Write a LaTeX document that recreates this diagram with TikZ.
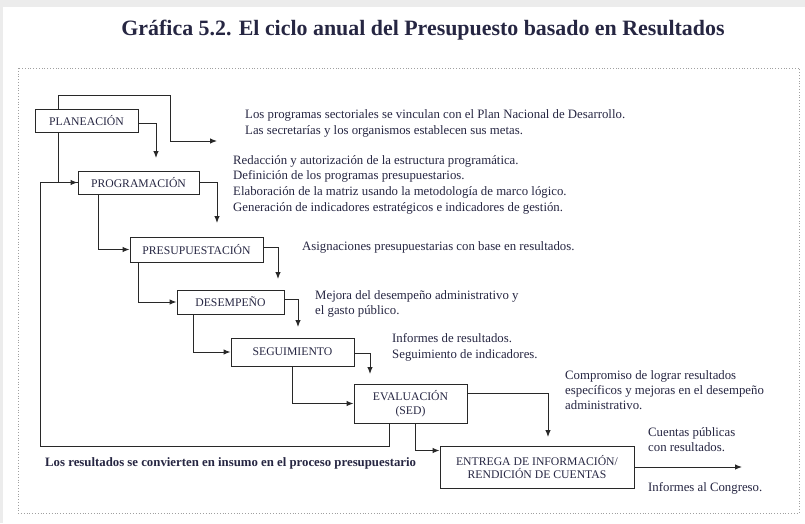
\documentclass[tikz,border=0pt]{standalone}
\usepackage{fontspec}
\setmainfont{Liberation Serif}
\usetikzlibrary{arrows.meta,calc}
\definecolor{txt}{RGB}{38,38,66}
\definecolor{ln}{RGB}{40,40,40}
\definecolor{frm}{RGB}{160,160,160}
\definecolor{strip}{RGB}{236,236,236}
\begin{document}
\begin{tikzpicture}[x=1pt,y=-1pt,
  box/.style={draw=ln,line width=1pt,fill=white,inner sep=0pt,text=txt,
    font=\fontsize{11.7}{13.5}\selectfont,align=center},
  arr/.style={draw=ln,line width=1pt,-{Latex[length=7pt,width=5.5pt]}},
  lnk/.style={draw=ln,line width=1pt},
  body/.style={anchor=west,inner sep=0pt,text=txt,align=left,
    font=\fontsize{12.8}{15.3}\selectfont}]
\useasboundingbox (0,0) rectangle (805,523);
\fill[white] (0,0) rectangle (805,523);
\fill[strip] (0,0) rectangle (805,7);
\fill[strip] (0,0) rectangle (3,523);
\draw[frm,dotted,line width=0.8pt] (18,68) rectangle (799,513);

\node[inner sep=0pt,text=txt,font=\bfseries\fontsize{21.9}{24}\selectfont] (title) at (423,30)
  {Gráfica 5.2. El ciclo anual del Presupuesto basado en Resultados};

% boxes
\node[box,minimum width=103pt,minimum height=23pt] (plan) at (86.5,120.5) {PLANEACIÓN};
\node[box,minimum width=121pt,minimum height=23pt] (prog) at (138.5,182.5) {PROGRAMACIÓN};
\node[box,minimum width=133pt,minimum height=25pt] (pres) at (196.5,249.5) {PRESUPUESTACIÓN};
\node[box,minimum width=107pt,minimum height=24pt] (des) at (230.5,302) {DESEMPEÑO};
\node[box,minimum width=123pt,minimum height=28pt] (seg) at (292.5,352) {SEGUIMIENTO};
\node[box,minimum width=113pt,minimum height=39pt] (eval) at (410.5,403.5) {EVALUACIÓN\\(SED)};
\node[box,minimum width=194pt,minimum height=42pt] (ent) at (537,467) {ENTREGA DE INFORMACIÓN/\\RENDICIÓN DE CUENTAS};

% free arrow ends
\coordinate (t1) at (217,141);
\coordinate (a1) at (156,158);
\coordinate (a2) at (217,223);
\coordinate (a3) at (278,279);
\coordinate (a4) at (298,327);
\coordinate (a5) at (370,374);
\coordinate (a6) at (548,437);
\coordinate (a7) at (742,467);
\coordinate (lp) at (40,446);
\coordinate (k1) at (170,95);

% connectors
\draw[arr] ($(plan.north west)+(24,0)$) |- (k1) |- (t1);
\draw[arr] ($(plan.east)+(0,2.5)$) -| (a1);
\draw[lnk] ($(plan.south west)+(24,0)$) |- (prog.west);
\draw[arr] ($(eval.south west)+(36,0)$) |- (lp) |- (prog.west);
\draw[arr] (prog.east) -| (a2);
\draw[arr] ($(prog.south west)+(21,0)$) |- (pres.west);
\draw[arr] ($(pres.east)+(0,-2.5)$) -| (a3);
\draw[arr] ($(pres.south west)+(9,0)$) |- (des.west);
\draw[arr] ($(des.east)+(0,-3)$) -| (a4);
\draw[arr] ($(des.south west)+(17,0)$) |- (seg.west);
\draw[arr] ($(seg.east)+(0,1)$) -| (a5);
\draw[arr] ($(seg.south west)+(62,0)$) |- (eval.west);
\draw[arr] ($(eval.east)+(0,-10.5)$) -| (a6);
\draw[arr] ($(eval.south west)+(62,0)$) |- ($(ent.north west)+(0,5)$);
\draw[arr] (ent.east) -- (a7);

% texts
\node[body] (x1) at (245,123.5) {Los programas sectoriales se vinculan con el Plan Nacional de Desarrollo.\\Las secretarías y los organismos establecen sus metas.};
\node[body,font=\fontsize{12.8}{15.67}\selectfont] (x2) at (233,184.5) {Redacción y autorización de la estructura programática.\\Definición de los programas presupuestarios.\\Elaboración de la matriz usando la metodología de marco lógico.\\Generación de indicadores estratégicos e indicadores de gestión.};
\node[body] (x3) at (302,247) {Asignaciones presupuestarias con base en resultados.};
\node[body] (x4) at (315,304) {Mejora del desempeño administrativo y\\el gasto público.};
\node[body] (x5) at (392,347.5) {Informes de resultados.\\Seguimiento de indicadores.};
\node[body] (x6) at (565,390) {Compromiso de lograr resultados\\específicos y mejoras en el desempeño\\administrativo.};
\node[body] (x7) at (648,439.5) {Cuentas públicas\\con resultados.};
\node[body] (x8) at (648,488) {Informes al Congreso.};
\node[body,font=\bfseries\fontsize{12.8}{15.3}\selectfont] (x9) at (45,463) {Los resultados se convierten en insumo en el proceso presupuestario};
\end{tikzpicture}
\end{document}
